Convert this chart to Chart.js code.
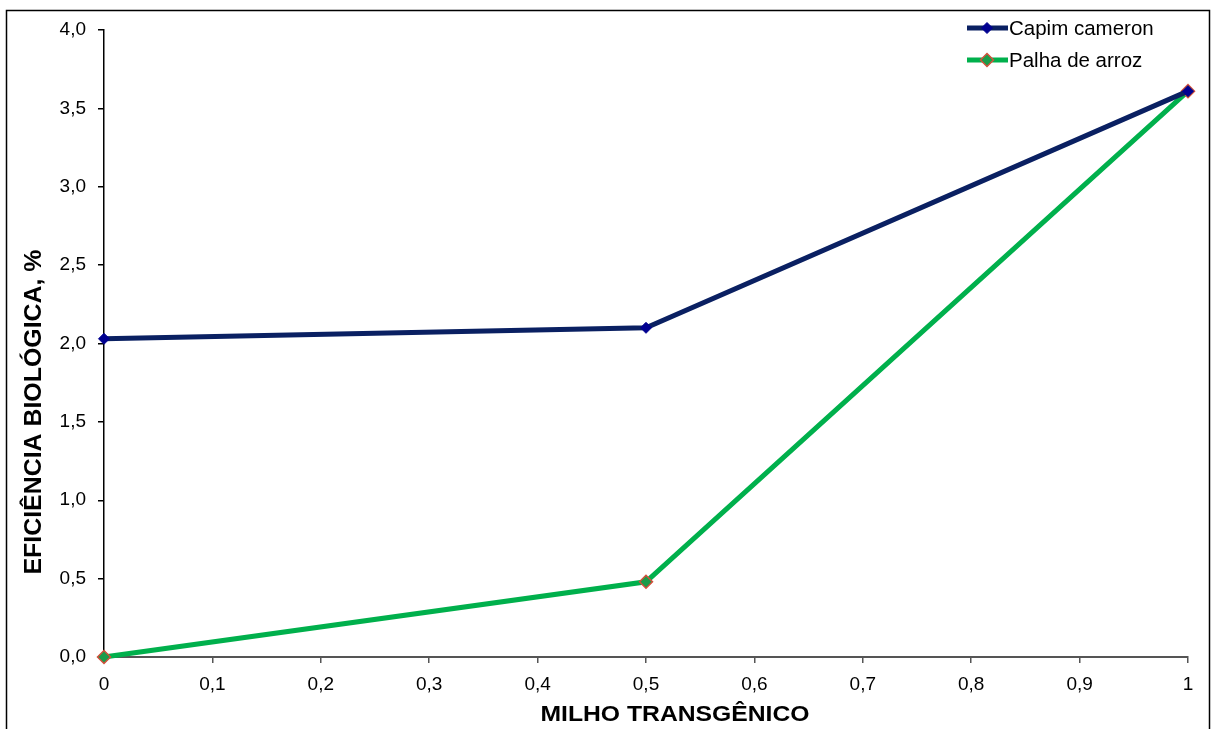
<!DOCTYPE html>
<html>
<head>
<meta charset="utf-8">
<script src="https://cdn.jsdelivr.net/npm/chart.js@4/dist/chart.umd.min.js"></script>
<style>
  html, body { margin: 0; padding: 0; background: #fff; }
  #wrap { width: 1212px; height: 729px; }
</style>
</head>
<body>
<div id="wrap"><canvas id="c" width="1212" height="729"></canvas></div>
<script>
// Proportion of transgenic corn in the substrate
const milhoTransgenico = [0, 0.5, 1];
// Biological efficiency (%) for each base substrate
const capimCameron = [2.03, 2.10, 3.61];
const palhaDeArroz = [0.00, 0.48, 3.61];
const seriesNames = ['Capim cameron', 'Palha de arroz'];
const xTickLabels = ['0', '0,1', '0,2', '0,3', '0,4', '0,5', '0,6', '0,7', '0,8', '0,9', '1'];
const yTickLabels = ['0,0', '0,5', '1,0', '1,5', '2,0', '2,5', '3,0', '3,5', '4,0'];
const xTitle = 'MILHO TRANSGÊNICO';
const yTitle = 'EFICIÊNCIA BIOLÓGICA, %';

const FONT = '"Liberation Sans", Arial, sans-serif';

const toPoints = (xs, ys) => xs.map((x, i) => ({ x: x, y: ys[i] }));

// Draws text centred at (0,0), stretched to a given width
function stretchedText(ctx, text, width) {
  const w = ctx.measureText(text).width;
  ctx.save();
  ctx.scale(width / w, 1);
  ctx.fillText(text, 0, 0);
  ctx.restore();
}

// Frame, axis titles and the legend drawn onto the canvas
const decorations = {
  id: 'decorations',
  afterDraw(chart) {
    const ctx = chart.ctx;
    ctx.save();
    // outer frame
    ctx.strokeStyle = '#000';
    ctx.lineWidth = 1.5;
    ctx.strokeRect(6.5, 10.5, 1203, 740);

    // axis titles
    ctx.fillStyle = '#000';
    ctx.textAlign = 'center';
    ctx.textBaseline = 'middle';
    ctx.font = 'bold 22px ' + FONT;
    ctx.save();
    ctx.translate(675, 715);
    stretchedText(ctx, xTitle, 269);
    ctx.restore();
    ctx.font = 'bold 23px ' + FONT;
    ctx.save();
    ctx.translate(35, 412);
    ctx.rotate(-Math.PI / 2);
    stretchedText(ctx, yTitle, 325);
    ctx.restore();

    // legend
    const rows = [28, 60];
    chart.data.datasets.forEach((ds, i) => {
      const y = rows[i];
      ctx.strokeStyle = ds.borderColor;
      ctx.lineWidth = 5;
      ctx.beginPath();
      ctx.moveTo(967, y);
      ctx.lineTo(1008, y);
      ctx.stroke();
      const r = ds.pointRadius;
      ctx.beginPath();
      ctx.moveTo(987, y - r);
      ctx.lineTo(987 + r, y);
      ctx.lineTo(987, y + r);
      ctx.lineTo(987 - r, y);
      ctx.closePath();
      ctx.fillStyle = ds.pointBackgroundColor;
      ctx.fill();
      ctx.strokeStyle = ds.pointBorderColor;
      ctx.lineWidth = ds.pointBorderWidth;
      ctx.stroke();
      ctx.fillStyle = '#000';
      ctx.font = '20.5px ' + FONT;
      ctx.textAlign = 'left';
      ctx.textBaseline = 'middle';
      ctx.fillText(ds.label, 1009, y + 1);
    });
    ctx.restore();
  }
};

new Chart(document.getElementById('c'), {
  type: 'line',
  data: {
    datasets: [
      {
        label: seriesNames[0],
        data: toPoints(milhoTransgenico, capimCameron),
        borderColor: '#0a2062',
        borderWidth: 5,
        pointStyle: 'rectRot',
        pointRadius: 5.5,
        pointBackgroundColor: '#000090',
        pointBorderColor: '#000090',
        pointBorderWidth: 1,
        tension: 0,
        clip: false
      },
      {
        label: seriesNames[1],
        data: toPoints(milhoTransgenico, palhaDeArroz),
        borderColor: '#00b04c',
        borderWidth: 5,
        pointStyle: 'rectRot',
        pointRadius: 6.5,
        pointBackgroundColor: '#1a9c4a',
        pointBorderColor: '#d2503c',
        pointBorderWidth: 1.5,
        tension: 0,
        clip: false
      }
    ]
  },
  options: {
    responsive: false,
    animation: false,
    layout: { padding: { top: 30, right: 24, left: 0, bottom: 0 } },
    plugins: { legend: { display: false }, tooltip: { enabled: false } },
    scales: {
      x: {
        type: 'linear',
        min: 0,
        max: 1,
        afterFit(scale) { scale.height = 72; },
        ticks: {
          stepSize: 0.1,
          color: '#000',
          font: { family: FONT, size: 19 },
          padding: 10,
          maxRotation: 0,
          autoSkip: false,
          callback: (v, i) => xTickLabels[i]
        },
        grid: {
          display: true,
          drawOnChartArea: false,
          drawTicks: true,
          tickLength: 6,
          color: '#555',
          lineWidth: 1.5
        },
        border: { display: true, color: '#555', width: 2 }
      },
      y: {
        min: 0,
        max: 4,
        afterFit(scale) { scale.width = 104; },
        ticks: {
          stepSize: 0.5,
          color: '#000',
          font: { family: FONT, size: 19 },
          padding: 12,
          callback: (v, i) => yTickLabels[i]
        },
        grid: {
          display: true,
          drawOnChartArea: false,
          drawTicks: true,
          tickLength: 6,
          color: '#000',
          lineWidth: 1.5
        },
        border: { display: true, color: '#000', width: 1.5 }
      }
    }
  },
  plugins: [decorations]
});
</script>
</body>
</html>
